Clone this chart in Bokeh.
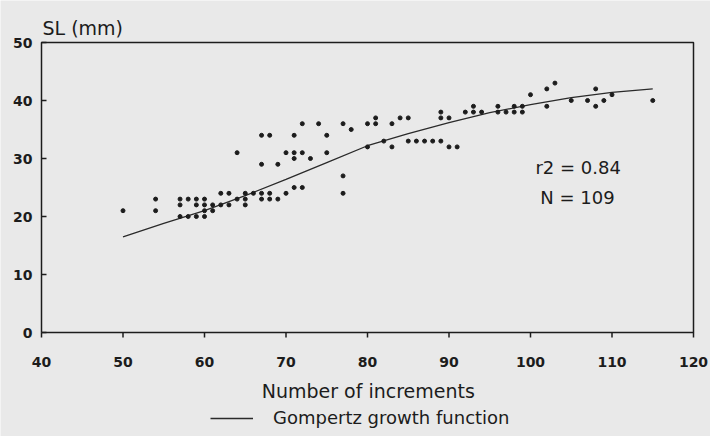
from bokeh.plotting import figure
from bokeh.models import Range1d, Label, Legend, LegendItem, ColumnDataSource
from bokeh.core.properties import value
from bokeh.embed import file_html
from bokeh.resources import INLINE

# Observed data (number of increments, SL in mm)
inc = [50, 54, 54, 57, 58, 59, 60, 57, 59, 60, 61, 62, 63, 65, 57, 58, 59, 60, 60, 61,
       62, 63, 65, 66, 67, 68, 64, 65, 67, 68, 69, 70, 71, 72, 64, 67, 68, 67, 69, 70,
       71, 72, 71, 71, 72, 74, 75, 75, 73, 77, 77, 77, 78, 80, 80, 81, 81, 83, 84, 85,
       82, 83, 85, 86, 87, 88, 89, 90, 91, 89, 89, 90, 92, 93, 93, 94, 96, 96, 97, 98,
       98, 99, 99, 100, 102, 103, 102, 105, 107, 108, 108, 109, 110, 115]
sl = [21, 23, 21, 23, 23, 23, 23, 22, 22, 22, 22, 22, 22, 22, 20, 20, 20, 20, 21, 21,
      24, 24, 24, 24, 24, 24, 23, 23, 23, 23, 23, 24, 25, 25, 31, 34, 34, 29, 29, 31,
      31, 31, 30, 34, 36, 36, 34, 31, 30, 36, 27, 24, 35, 36, 32, 36, 37, 36, 37, 37,
      33, 32, 33, 33, 33, 33, 33, 32, 32, 38, 37, 37, 38, 39, 38, 38, 39, 38, 38, 38,
      39, 38, 39, 41, 42, 43, 39, 40, 40, 42, 39, 40, 41, 40]

# Fitted Gompertz curve
fit_x = [50, 55, 60, 65, 70, 75, 80, 85, 90, 95, 100, 105, 110, 115]
fit_y = [16.5, 18.8, 21.0, 23.6, 26.4, 29.3, 32.2, 34.3, 36.2, 37.9, 39.3, 40.5, 41.4, 42.0]

x_ticks = [40, 50, 60, 70, 80, 90, 100, 110, 120]
y_ticks = [0, 10, 20, 30, 40, 50]

BG = "#e9e9e9"
INK = "#1c1c1c"
FONT = "DejaVu Sans"

W, H = 710, 436
XPX = 8.15   # pixels per x unit
YPX = 5.8    # pixels per y unit
x0, x1 = x_ticks[0], x_ticks[-1]
y0, y1 = y_ticks[0], y_ticks[-1]
LEFT_PX, BOTTOM_PX = 41, 104   # box position inside the canvas

p = figure(frame_width=W, frame_height=H, output_backend="svg", toolbar_location=None,
           x_range=Range1d(x0 - LEFT_PX / XPX, x0 + (W - LEFT_PX) / XPX),
           y_range=Range1d(y0 - BOTTOM_PX / YPX, y0 + (H - BOTTOM_PX) / YPX),
           x_axis_location=None, y_axis_location=None,
           min_border=0)
p.background_fill_color = BG
p.border_fill_color = BG
p.outline_line_color = None
p.grid.visible = False

# plot box
p.line([x0, x0, x1, x1, x0], [y0, y1, y1, y0, y0], line_color=INK, line_width=1.5)

# x ticks (outside, downwards) and labels
xt = ColumnDataSource(dict(x=x_ticks, y0=[y0] * len(x_ticks),
                           y1=[y0 - 5 / YPX] * len(x_ticks),
                           ty=[y0 - 29 / YPX] * len(x_ticks),
                           t=[str(v) for v in x_ticks]))
p.segment(x0="x", y0="y0", x1="x", y1="y1", source=xt, line_color=INK, line_width=1.5)
p.text(x="x", y="ty", text="t", source=xt, text_font=value(FONT), text_font_size="14px",
       text_font_style="bold", text_color=INK, text_align="center", text_baseline="middle")

# y ticks (inside, to the right) and labels
yt = ColumnDataSource(dict(y=y_ticks, x0=[x0] * len(y_ticks),
                           x1=[x0 + 5 / XPX] * len(y_ticks),
                           tx=[x0 - 9 / XPX] * len(y_ticks),
                           t=[str(v) for v in y_ticks]))
p.segment(x0="x0", y0="y", x1="x1", y1="y", source=yt, line_color=INK, line_width=1.5)
p.text(x="tx", y="y", text="t", source=yt, text_font=value(FONT), text_font_size="14px",
       text_font_style="bold", text_color=INK, text_align="right", text_baseline="middle")

fit = p.line(fit_x, fit_y, line_color="#2a2a2a", line_width=1.3)
p.scatter(inc, sl, size=4, color=INK)

def lab(x, y, t, size, align="left"):
    p.add_layout(Label(x=x, y=y, text=t, text_font=FONT, text_font_size=size,
                       text_color=INK, text_align=align, text_baseline="middle"))

lab(x0 + 1 / XPX, y1 + 15 / YPX, "SL (mm)", "19px")
lab(100.6, 28.4, "r2 = 0.84", "18px")
lab(101.2, 23.3, "N = 109", "18px")
lab(80.1, y0 - 58 / YPX, "Number of increments", "19px", "center")

leg = Legend(items=[LegendItem(label="Gompertz growth function", renderers=[fit])],
             location=(210, 8), orientation="horizontal",
             background_fill_alpha=0, border_line_color=None,
             label_text_font=FONT, label_text_font_size="18px", label_text_color=INK,
             label_height=16, glyph_height=16,
             glyph_width=43, label_standoff=20, padding=0, margin=0, spacing=0)
p.add_layout(leg, "center")

open("out.html", "w").write(file_html(p, INLINE))
